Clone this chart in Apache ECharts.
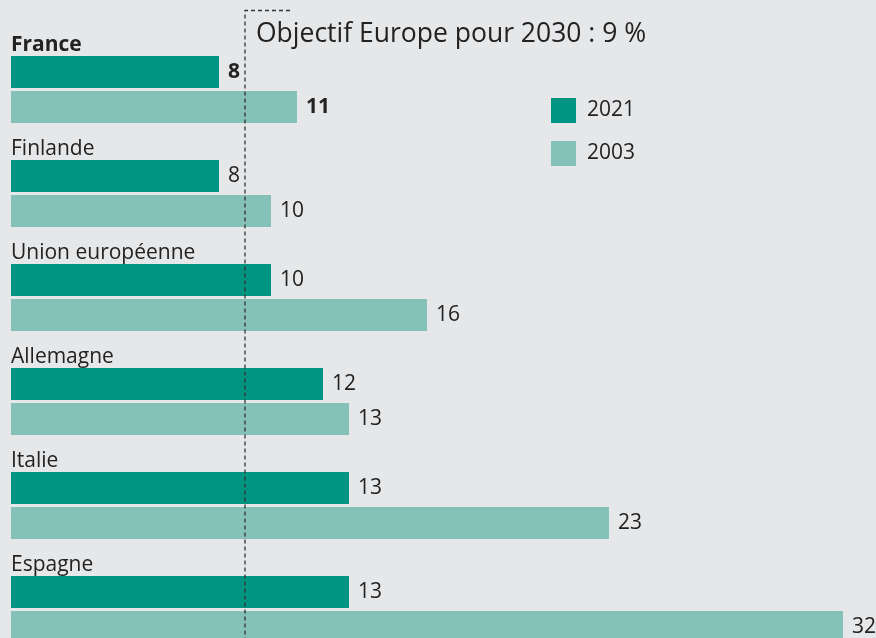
<!DOCTYPE html>
<html>
<head>
<meta charset="utf-8">
<script src="https://cdn.jsdelivr.net/npm/echarts@6/dist/echarts.min.js"></script>
<style>
html,body{margin:0;padding:0;background:#e6e7e9;}
#c{width:876px;height:638px;}
</style>
</head>
<body>
<div id="c"></div>
<script>
const categories = ["France", "Finlande", "Union européenne", "Allemagne", "Italie", "Espagne"];
const values2021 = [8, 8, 10, 12, 13, 13];
const values2003 = [11, 10, 16, 13, 23, 32];
const seriesNames = ["2021", "2003"];
const targetValue = 9;
const targetLabel = "Objectif Europe pour 2030 : 9 %";

const FONT = "Open Sans";
const TEXT = "#222222";
const DARK = "#009482";
const LIGHT = "#85c1b8";

const chart = echarts.init(document.getElementById('c'), null, {renderer: 'canvas'});

function valueLabel() {
  return {
    show: true,
    position: 'right',
    distance: 9,
    fontFamily: FONT,
    fontSize: 21,
    color: TEXT,
    formatter: function (p) {
      return p.dataIndex === 0 ? '{b|' + p.value + '}' : String(p.value);
    },
    rich: { b: { fontFamily: FONT, fontSize: 21, fontWeight: 'bold', color: TEXT } }
  };
}

const option = {
  backgroundColor: '#e6e7e9',
  animation: false,
  grid: { left: 11, top: 37.5, width: 858, height: 624, containLabel: false, outerBoundsMode: 'none' },
  xAxis: {
    type: 'value', min: 0, max: 33,
    show: false
  },
  yAxis: {
    type: 'category',
    data: categories,
    inverse: true,
    axisLine: { show: false },
    axisTick: { show: false },
    splitLine: { show: false },
    axisLabel: {
      inside: true,
      margin: 0,
      align: 'left',
      verticalAlign: 'bottom',
      padding: [0, 0, 34, 0],
      fontFamily: FONT,
      fontSize: 21,
      color: TEXT,
      formatter: function (v, i) { return i === 0 ? '{b|' + v + '}' : v; },
      rich: { b: { fontFamily: FONT, fontSize: 21, fontWeight: 'bold', color: TEXT } }
    }
  },
  legend: {
    orient: 'vertical',
    left: 546, top: 93,
    itemWidth: 25, itemHeight: 25, itemGap: 18,
    icon: 'rect',
    textStyle: { fontFamily: FONT, fontSize: 21, color: TEXT, padding: [0, 0, 0, 6] },
    data: seriesNames
  },
  series: [
    {
      name: seriesNames[0], type: 'bar', data: values2021,
      barWidth: 32, barGap: '9.4%',
      itemStyle: { color: DARK },
      label: valueLabel(),
      z: 2
    },
    {
      name: seriesNames[1], type: 'bar', data: values2003,
      barWidth: 32, barGap: '9.4%',
      itemStyle: { color: LIGHT },
      label: valueLabel(),
      z: 2
    }
  ]
};
chart.setOption(option);

const xt = chart.convertToPixel({ xAxisIndex: 0 }, targetValue);
chart.setOption({
  graphic: [
    {
      type: 'polyline',
      z: 10,
      shape: { points: [[xt + 45, 10.5], [xt, 10.5], [xt, 640]] },
      style: { stroke: '#333333', lineWidth: 1.3, lineDash: [4, 3], fill: null }
    },
    {
      type: 'text',
      z: 10,
      left: xt + 11,
      top: 21,
      style: { text: targetLabel, fontFamily: FONT, fontSize: 26.5, fill: TEXT }
    }
  ]
});
</script>
</body>
</html>
